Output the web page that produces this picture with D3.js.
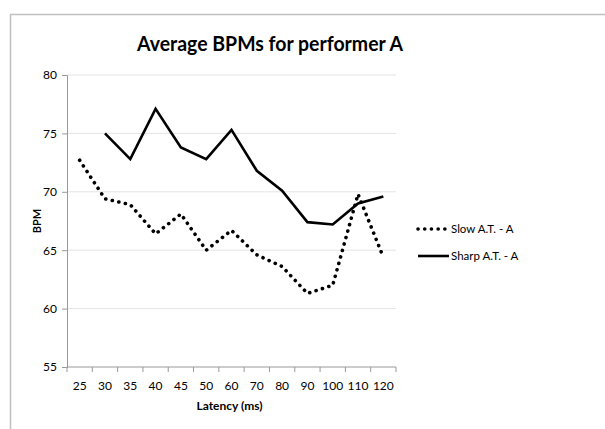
<!DOCTYPE html>
<html>
<head>
<meta charset="utf-8">
<script src="https://cdn.jsdelivr.net/npm/d3@7"></script>
<style>
  body { margin: 0; background: #fff; }
  text { font-family: Lato, "Open Sans", sans-serif; fill: #000; }
</style>
</head>
<body>
<svg id="chart" width="605" height="429"></svg>
<script>
const latencies = ['25', '30', '35', '40', '45', '50', '60', '70', '80', '90', '100', '110', '120'];
const slowValues = [72.7, 69.4, 68.9, 66.4, 68.1, 65.0, 66.7, 64.6, 63.6, 61.3, 62.0, 69.8, 64.4];
const sharpValues = [null, 75.0, 72.8, 77.1, 73.8, 72.8, 75.3, 71.8, 70.1, 67.4, 67.2, 69.0, 69.6];
const yTicks = [55, 60, 65, 70, 75, 80];

const margin = {top: 75, left: 67};
const width = 329;
const height = 292;

const svg = d3.select('#chart');

// outer chart border (clipped by window on the right/bottom)
svg.append('rect')
    .attr('x', 10.5)
    .attr('y', 14.5)
    .attr('width', 620)
    .attr('height', 430)
    .attr('fill', 'none')
    .attr('stroke', '#c0c0c0')
    .attr('stroke-width', 1.5);

svg.append('text')
    .attr('x', 270)
    .attr('y', 51)
    .attr('text-anchor', 'middle')
    .style('font-size', '21px')
    .attr('textLength', 266)
    .attr('lengthAdjust', 'spacingAndGlyphs')
    .style('font-weight', 'bold')
    .text('Average BPMs for performer A');

const g = svg.append('g')
    .attr('transform', `translate(${margin.left},${margin.top})`);

const x = d3.scaleBand().domain(latencies).range([0, width]);
const y = d3.scaleLinear().domain([55, 80]).range([height, 0]);

// gridlines
g.append('g')
    .selectAll('line')
    .data(yTicks.filter(d => d !== 55))
    .enter()
    .append('line')
    .attr('x1', 0)
    .attr('x2', width)
    .attr('y1', d => y(d))
    .attr('y2', d => y(d))
    .attr('stroke', '#e4e4e4')
    .attr('stroke-width', 1);

// y axis
const yAxis = g.append('g')
    .call(d3.axisLeft(y).tickValues(yTicks).tickSize(5).tickPadding(5));
yAxis.select('.domain').attr('stroke', '#999');
yAxis.selectAll('.tick line').attr('stroke', '#999');
yAxis.selectAll('.tick text')
    .style('font-size', '12px')
    .style('font-family', 'Lato, "Open Sans", sans-serif')
    .attr('fill', '#000');

// x axis: ticks at category boundaries
const xAxis = g.append('g').attr('transform', `translate(0,${height})`);
xAxis.append('line')
    .attr('x1', 0).attr('x2', width)
    .attr('stroke', '#999');
xAxis.selectAll('line.tk')
    .data(latencies.concat(['end']))
    .enter()
    .append('line')
    .attr('class', 'tk')
    .attr('x1', (d, i) => i * x.bandwidth())
    .attr('x2', (d, i) => i * x.bandwidth())
    .attr('y1', 0)
    .attr('y2', 5)
    .attr('stroke', '#999');
xAxis.selectAll('text')
    .data(latencies)
    .enter()
    .append('text')
    .attr('x', d => x(d) + x.bandwidth() / 2)
    .attr('y', 23)
    .attr('text-anchor', 'middle')
    .style('font-size', '12px')
    .text(d => d);

// axis titles
g.append('text')
    .attr('x', width / 2 - 2)
    .attr('y', height + 43)
    .attr('text-anchor', 'middle')
    .style('font-size', '12px')
    .style('font-weight', 'bold')
    .text('Latency (ms)');

g.append('text')
    .attr('transform', 'rotate(-90)')
    .attr('x', -height / 2)
    .attr('y', -26)
    .attr('text-anchor', 'middle')
    .style('font-size', '11px')
    .style('font-weight', 'bold')
    .text('BPM');

const line = d3.line()
    .defined(d => d.v !== null)
    .x(d => x(d.k) + x.bandwidth() / 2)
    .y(d => y(d.v));

const slow = latencies.map((k, i) => ({k, v: slowValues[i]}));
const sharp = latencies.map((k, i) => ({k, v: sharpValues[i]}));

const dotStyle = sel => sel
    .attr('fill', 'none')
    .attr('stroke', '#000')
    .attr('stroke-width', 3.6)
    .attr('stroke-linecap', 'round')
    .attr('stroke-dasharray', '0.1 6.6');

const solidStyle = sel => sel
    .attr('fill', 'none')
    .attr('stroke', '#000')
    .attr('stroke-width', 2.6)
    .attr('stroke-linejoin', 'miter');

g.append('path').datum(slow).attr('d', line).call(dotStyle);
g.append('path').datum(sharp).attr('d', line).call(solidStyle);

// legend
const legend = svg.append('g');
const legendItems = [
    {label: 'Slow A.T. - A', style: dotStyle, y: 233},
    {label: 'Sharp A.T. - A', style: solidStyle, y: 260}
];
legendItems.forEach(item => {
    legend.append('line')
        .attr('x1', 418)
        .attr('x2', 449)
        .attr('y1', item.y - 4)
        .attr('y2', item.y - 4)
        .call(item.style);
    legend.append('text')
        .attr('x', 451)
        .attr('y', item.y)
        .style('font-size', '11.5px')
        .text(item.label);
});
</script>
</body>
</html>
